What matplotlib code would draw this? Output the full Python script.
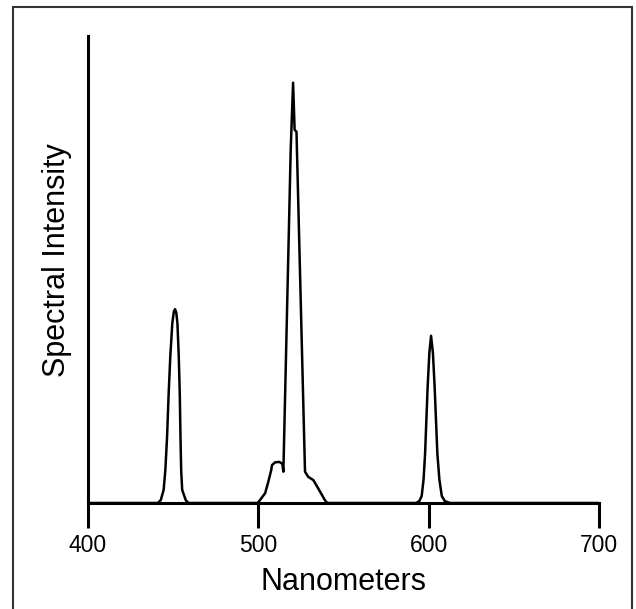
import matplotlib.pyplot as plt
from matplotlib.patches import Rectangle

plt.rcParams["font.family"] = ["Liberation Sans", "DejaVu Sans"]

# spectral peaks (wavelength in nm, relative intensity)
blue_nm = [441.0, 442.7, 444.4, 445.4, 446.4, 447.3, 448.3, 449.5, 450.4, 451.1,
           451.8, 452.5, 453.3, 453.9, 454.3, 454.7, 455.3, 457.4, 459.0]
blue_int = [0, 0.006, 0.028, 0.070, 0.140, 0.230, 0.313, 0.385, 0.410, 0.415,
            0.408, 0.385, 0.313, 0.230, 0.140, 0.070, 0.028, 0.006, 0]

green_nm = [499.5, 500.5, 504.0, 505.9, 507.6, 508.0, 509.8, 512.3, 514.1, 514.7,
            519.0, 520.4, 521.3, 522.4, 527.4, 529.3, 532.3, 535.2, 539.1, 540.5]
green_int = [0, 0.004, 0.021, 0.046, 0.071, 0.081, 0.087, 0.088, 0.084, 0.067,
             0.756, 0.900, 0.799, 0.795, 0.067, 0.056, 0.049, 0.031, 0.006, 0]

red_nm = [592.6, 594.5, 595.9, 597.0, 597.9, 599.4, 600.4, 601.4, 602.5, 603.5,
          605.1, 606.3, 607.7, 609.5, 612.5]
red_int = [0, 0.004, 0.015, 0.05, 0.106, 0.249, 0.321, 0.358, 0.321, 0.249,
           0.106, 0.05, 0.015, 0.004, 0]

x_ticks = [400, 500, 600, 700]

wl = [400] + blue_nm + green_nm + red_nm + [700]
inten = [0] + blue_int + green_int + red_int + [0]

fig = plt.figure(figsize=(6.36, 6.09), dpi=100)
ax = fig.add_axes([88 / 636, 106 / 609, 511 / 636, 467 / 609])

ax.plot(wl, inten, color="black", lw=1.8, solid_joinstyle="round")

ax.set_xlim(400, 700)
ax.set_ylim(0, 1)
ax.set_xticks(x_ticks)
ax.set_xticklabels([str(t) for t in x_ticks])
ax.set_yticks([])
ax.tick_params(axis="x", direction="out", length=18, width=2.2, pad=4,
               labelsize=16.5, colors="black")
for side in ["top", "right"]:
    ax.spines[side].set_visible(False)
for side in ["left", "bottom"]:
    ax.spines[side].set_linewidth(2.2)
    ax.spines[side].set_color("black")

fig.text(343.5 / 636, 19 / 609, "Nanometers", fontsize=22, ha="center", va="baseline")
fig.text(57 / 636, 1 - 260.5 / 609, "Spectral Intensity", fontsize=22,
         rotation=90, ha="center", va="center")

# outer frame, open at the bottom edge of the image
fig.patches.append(Rectangle((13 / 636, -0.05), 619 / 636, 1 - 7 / 609 + 0.05,
                             transform=fig.transFigure, fill=False,
                             edgecolor="#333333", lw=1.5, clip_on=False))

plt.savefig("out.png", dpi=100)
plt.close()
